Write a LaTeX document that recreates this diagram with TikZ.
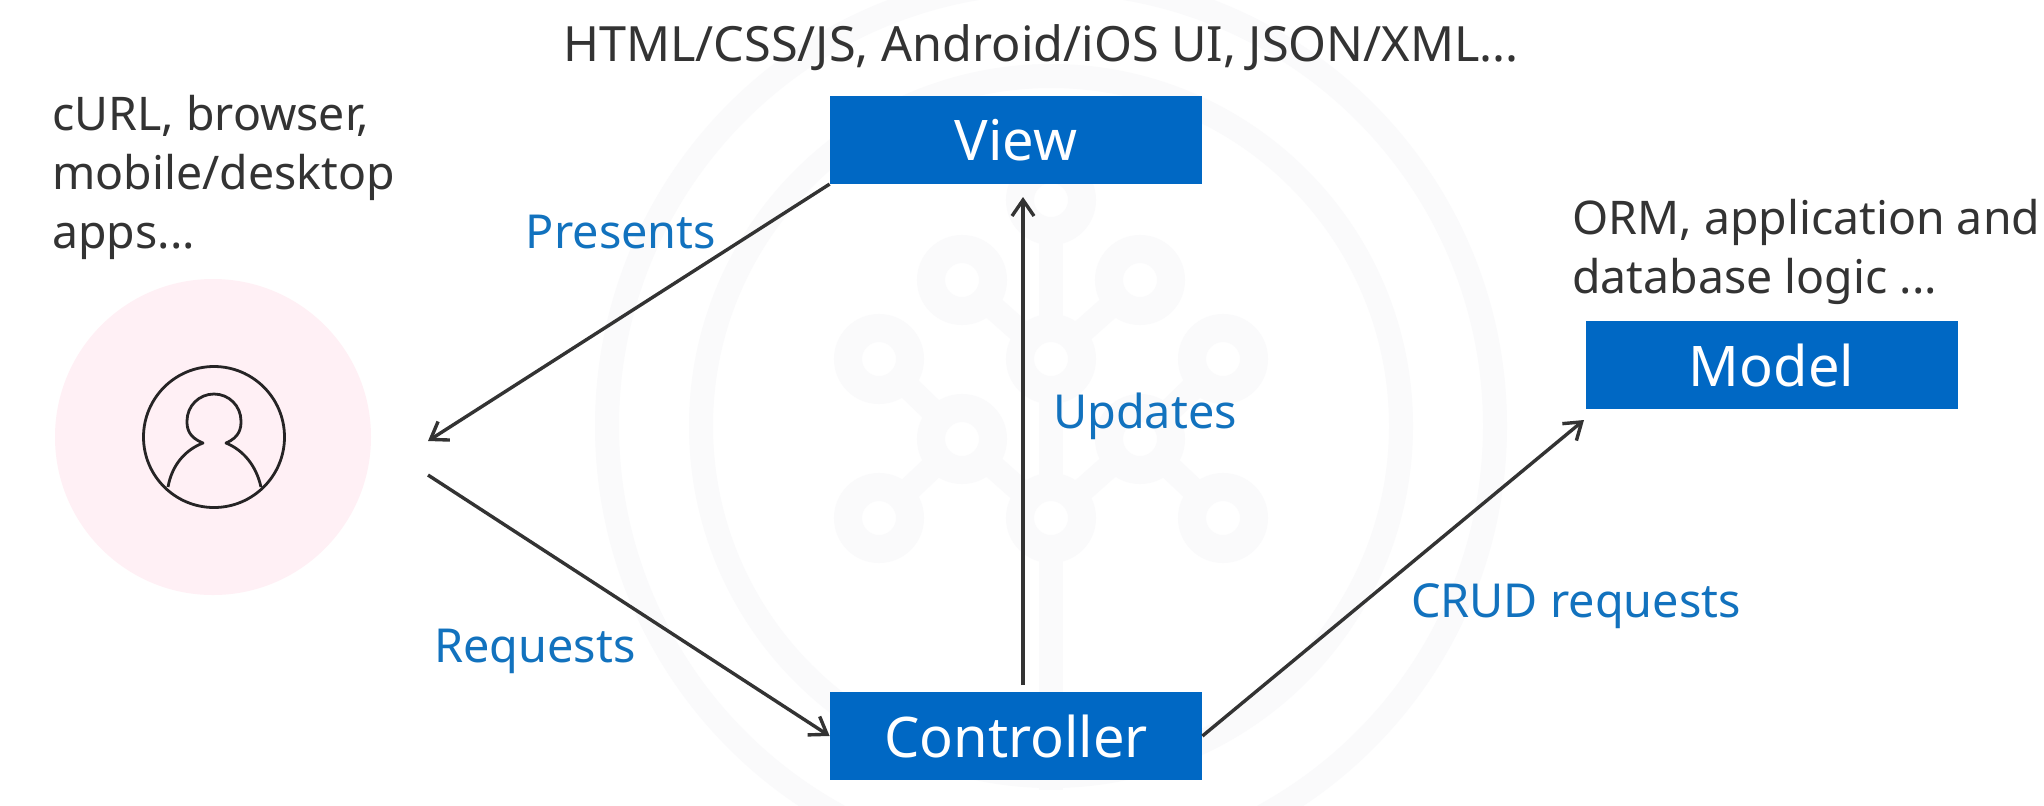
\documentclass[tikz,border=0pt]{standalone}
\usepackage{fontspec}
\setmainfont{Noto Sans}
\usetikzlibrary{arrows.meta}
\definecolor{ibmblue}{HTML}{0068C4}
\definecolor{lblblue}{HTML}{1272BE}
\definecolor{ink}{HTML}{333333}
\definecolor{wm}{HTML}{FAFAFB}
\definecolor{pinkbg}{HTML}{FFF0F5}
\begin{document}
\begin{tikzpicture}[x=0.5pt,y=-0.5pt,
  box/.style={fill=ibmblue,text=white,minimum width=186pt,minimum height=44pt,inner sep=0pt,font=\fontsize{28}{30}\selectfont},
  lbl/.style={text=lblblue,inner sep=0pt,font=\fontsize{23.4}{26}\selectfont,anchor=base},
  note/.style={text=ink,inner sep=0pt,font=\fontsize{23.2}{29.4}\selectfont,align=left,anchor=base west},
  conn/.style={draw=ink,line width=1.7pt,-{Straight Barb[length=8pt,width=11pt,line width=1.7pt]}},
  wmline/.style={draw=wm,line width=12pt}]
\useasboundingbox (0,0) rectangle (2044,805);
\fill[white] (0,0) rectangle (2044,805);
% watermark
\draw[wmline] (1051,426) circle (350);
\draw[wmline] (1051,426) circle (444);
\draw[wmline] (1051,200) -- (1051,790);
\draw[wmline] (962,280) -- (1051,359) -- (1140,280);
\draw[wmline] (879,359) -- (962,439) -- (1051,518) -- (1140,439) -- (1223,359);
\draw[wmline] (879,518) -- (962,439);
\draw[wmline] (1223,518) -- (1140,439);
\foreach \p in {(962,280),(1140,280),(1051,359),(879,359),(1223,359),(962,439),(1140,439),(879,518),(1223,518),(1051,518),(1051,200)}
  \draw[wm,line width=14pt,fill=white] \p circle (31);
% user
\fill[pinkbg] (213,437) circle (158);
\coordinate (presentsEnd) at (428,441);
\coordinate (requestsStart) at (428,475);
\draw[black!85!pinkbg,line width=1.4pt] (214,437) circle (70.5);
\draw[black!85!pinkbg,line width=1.4pt,line join=round]
  (168,487) .. controls (172,465) and (185,450) .. (203,443)
  .. controls (188,437) and (187,428) .. (187,421)
  .. controls (187,406) and (199,394) .. (214,394)
  .. controls (229,394) and (241,406) .. (241,421)
  .. controls (241,428) and (240,437) .. (226,443)
  .. controls (243,450) and (256,465) .. (261,487);
% boxes
\node[box] (view) at (1016,139.7) {View};
\node[box] (controller) at (1016,736) {Controller};
\node[box] (model) at (1771.5,365) {Model};
% notes
\node[note] (n1) at (52,248) {cURL, browser,\\mobile/desktop\\apps...};
\node[text=ink,inner sep=0pt,font=\fontsize{24.3}{26}\selectfont,anchor=base] (n2) at (1041,61) {HTML/CSS/JS, Android/iOS UI, JSON/XML...};
\node[note] (n3) at (1572,293) {ORM, application and\\database logic ...};
% labels
\node[lbl] (presents) at (621,248) {Presents};
\node[lbl] (updates) at (1145,428) {Updates};
\node[lbl] (requests) at (535,662) {Requests};
\node[lbl] (crud) at (1576,617) {CRUD requests};
% connectors
\draw[conn] (view.south west) -- (presentsEnd);
\draw[conn] (requestsStart) -- (controller.west);
\coordinate (updStart) at (1023,685);
\coordinate (updEnd) at (1023,197);
\draw[conn] (updStart) -- (updEnd);
\coordinate (crudEnd) at (1584,420);
\draw[conn] (controller.east) -- (crudEnd);
\end{tikzpicture}
\end{document}
